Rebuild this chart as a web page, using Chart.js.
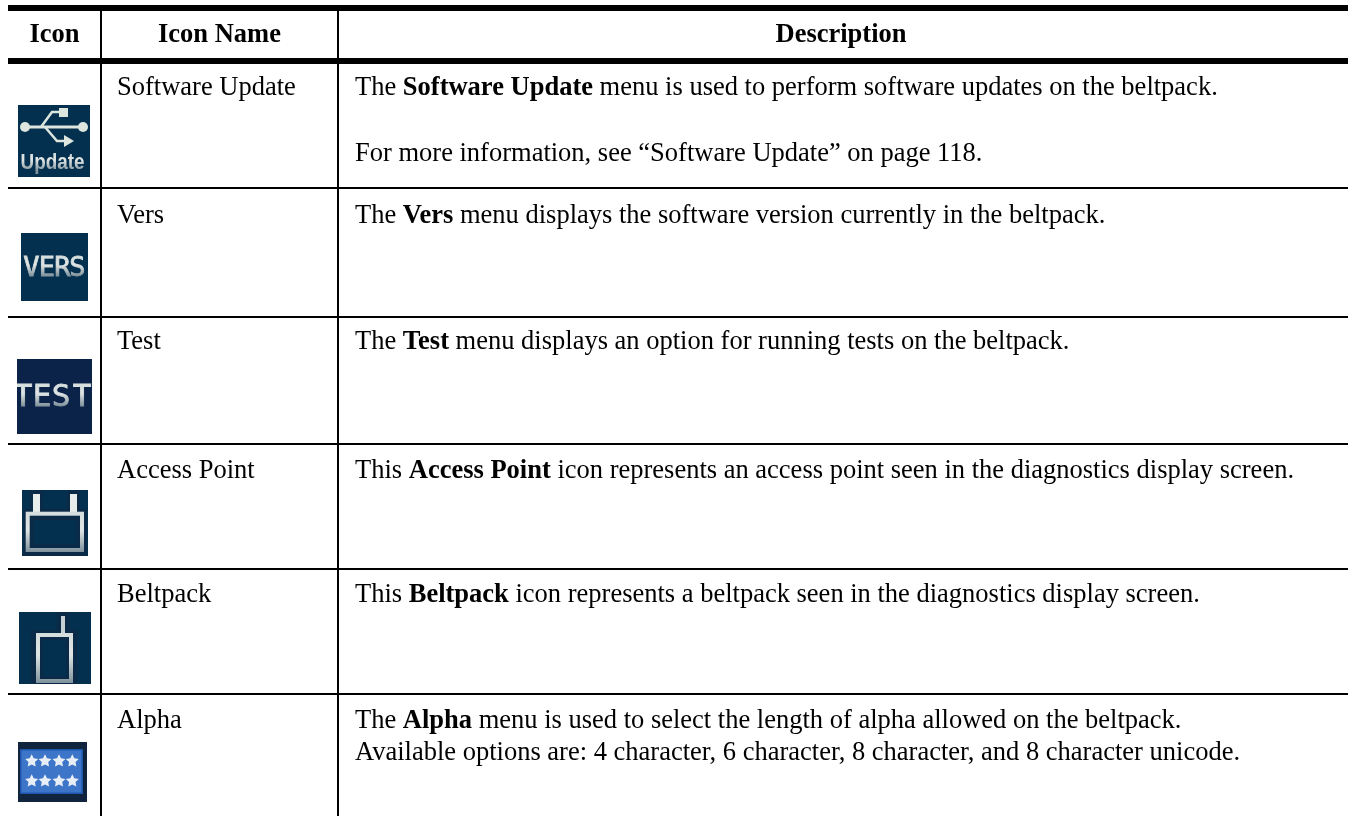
<!DOCTYPE html>
<html>
<head>
<meta charset="utf-8">
<script src="https://cdn.jsdelivr.net/npm/chart.js@4/dist/chart.umd.min.js"></script>
<style>html,body{margin:0;padding:0;background:#fff}canvas{display:block}</style>
</head>
<body>
<canvas id="c" width="1348" height="816"></canvas>
<script>
// table text
const headers=['Icon','Icon Name','Description'];
const iconNames=['Software Update','Vers','Test','Access Point','Beltpack','Alpha'];
// **x** = bold
const descriptions=[
['The **Software Update** menu is used to perform software updates on the beltpack.','For more information, see “Software Update” on page 118.'],
['The **Vers** menu displays the software version currently in the beltpack.'],
['The **Test** menu displays an option for running tests on the beltpack.'],
['This **Access Point** icon represents an access point seen in the diagnostics display screen.'],
['This **Beltpack** icon represents a beltpack seen in the diagnostics display screen.'],
['The **Alpha** menu is used to select the length of alpha allowed on the beltpack.','Available options are: 4 character, 6 character, 8 character, and 8 character unicode.']
];
// rules, in picture pixels
const colRules=[100.5,338];
const rowRules=[8,61,188,317,444,569,694];
const nameBaselines=[95,222.5,349,478,602,727.5];
const descBaselines=[[95,161],[222.5],[349],[478],[602],[727.5,760]];
const iconX=[54,54.5,54.5,55,55,52.5];
const iconY=[141,267,396.5,523,648,772];
const iconW=[72,67,75,66,72,69];
const iconH=[72,68,75,66,72,60];

const FONT='"Liberation Serif"';
const SIZE=26.5;

function blurred(w,h,draw){
  const a=document.createElement('canvas');a.width=w;a.height=h;
  draw(a.getContext('2d'),w,h);
  const b=document.createElement('canvas');b.width=w;b.height=h;
  const x=b.getContext('2d');x.filter='blur(0.6px)';x.drawImage(a,0,0);
  return b;
}
function metal(c,y0,y1){
  const g=c.createLinearGradient(0,y0,0,y1);
  g.addColorStop(0,'#d4dcdc');g.addColorStop(.45,'#dfe5e4');g.addColorStop(1,'#7f929c');
  return g;
}
function letters(c,s,xs,y,font){
  c.font=font;c.textAlign='center';
  s.split('').forEach((l,i)=>{c.fillText(l,xs[i],y);c.strokeText(l,xs[i],y);});
}
function star(c,x,y,r){
  c.beginPath();
  for(let i=0;i<10;i++){
    const a=-Math.PI/2+i*Math.PI/5,q=i%2?r*.5:r;
    c.lineTo(x+q*Math.cos(a),y+q*Math.sin(a));
  }
  c.closePath();c.fill();
}
const iconDraw=[
(c,w,h)=>{ // usb
  c.fillStyle='#04304f';c.fillRect(0,0,w,h);
  c.strokeStyle=c.fillStyle='#dde6de';c.lineWidth=3;
  c.beginPath();c.moveTo(7,22);c.lineTo(65,22);c.stroke();
  c.beginPath();c.arc(7,22,5,0,7);c.fill();
  c.beginPath();c.arc(65,22,5,0,7);c.fill();
  c.lineWidth=2.5;
  c.beginPath();c.moveTo(23,22);c.lineTo(34,7);c.lineTo(43,7);c.stroke();
  c.fillRect(41,3,9,9);
  c.beginPath();c.moveTo(27,22);c.lineTo(39,36);c.lineTo(48,36);c.stroke();
  c.beginPath();c.moveTo(46,30);c.lineTo(56,36);c.lineTo(46,42);c.fill();
  c.fillStyle=metal(c,46,66);c.font='bold 22px "Liberation Sans"';c.textAlign='center';
  c.fillText('Update',34.5,64,64);
},
(c,w,h)=>{
  c.fillStyle='#04304f';c.fillRect(0,0,w,h);
  c.fillStyle=c.strokeStyle=metal(c,23,43);c.lineWidth=.8;
  letters(c,'VERS',[10.5,26,41.5,56.5],43,'27px "DejaVu Sans Mono"');
},
(c,w,h)=>{
  c.fillStyle='#0b2348';c.fillRect(0,0,w,h);
  c.fillStyle=c.strokeStyle=metal(c,24,47);c.lineWidth=.8;
  letters(c,'TEST',[6,25,44,65],47,'31px "DejaVu Sans Mono"');
},
(c,w,h)=>{
  c.fillStyle='#04304f';c.fillRect(0,0,w,h);
  c.fillStyle='#0a2a48';c.fillRect(1,19,64,47);c.fillRect(8,0,13,20);c.fillRect(45,0,13,20);
  c.fillStyle='#e8ecea';c.fillRect(11,4,7,20);c.fillRect(48,4,7,20);
  c.strokeStyle=metal(c,22,62);c.lineWidth=4;c.strokeRect(5.7,23.7,54.3,36.3);
  c.fillStyle='#04304f';c.fillRect(12,30,42,24);
},
(c,w,h)=>{
  c.fillStyle='#04304f';c.fillRect(0,0,w,h);
  c.fillStyle='#0a2a48';c.fillRect(12,18,46,54);c.fillRect(38,0,12,20);
  c.fillStyle='#c6d0d4';c.fillRect(42,4,4,18);
  c.strokeStyle=metal(c,20,71);c.lineWidth=4;c.strokeRect(19,23,33,46);
  c.fillStyle='#04304f';c.fillRect(24,28,23,36);
},
(c,w,h)=>{
  c.fillStyle='#10243e';c.fillRect(0,0,w,h);
  c.fillStyle='#1f56ad';c.fillRect(2,7,63,45);
  c.fillStyle='#3d75c8';c.fillRect(3.5,8.5,60,42);
  c.fillStyle='#e8eef6';
  [13.7,27,41,54.3].forEach(x=>{star(c,x,19,6.8);star(c,x,39,6.8);});
}
];
const iconImages=iconDraw.map((d,i)=>blurred(iconW[i],iconH[i],d));

function drawRich(ctx,text,x,y){
  text.split('**').forEach((part,i)=>{
    ctx.font=(i%2?'bold ':'')+SIZE+'px '+FONT;
    ctx.fillText(part,x,y);
    x+=ctx.measureText(part).width;
  });
}
const tableText={
  id:'tableText',
  afterDatasetsDraw(chart){
    const {ctx,scales:{x,y}}=chart;
    ctx.save();
    ctx.fillStyle='#000';ctx.textBaseline='alphabetic';
    ctx.font='bold '+SIZE+'px '+FONT;ctx.textAlign='center';
    const hx=[54.5,219.5,841];
    headers.forEach((h,i)=>ctx.fillText(h,x.getPixelForValue(hx[i]),y.getPixelForValue(41.5)));
    ctx.textAlign='left';
    iconNames.forEach((n,i)=>{
      ctx.font=SIZE+'px '+FONT;
      ctx.fillText(n,x.getPixelForValue(117),y.getPixelForValue(nameBaselines[i]));
    });
    descriptions.forEach((lines,i)=>lines.forEach((l,j)=>{
      drawRich(ctx,l,x.getPixelForValue(355),y.getPixelForValue(descBaselines[i][j]));
    }));
    ctx.restore();
  }
};

new Chart(document.getElementById('c'),{
  type:'scatter',
  data:{datasets:[{
    data:iconX.map((v,i)=>({x:v,y:iconY[i]})),
    pointStyle:iconImages,
    pointRadius:3,
    clip:false
  }]},
  options:{
    responsive:false,animation:false,
    layout:{autoPadding:false,padding:{left:8,top:5,right:0,bottom:0}},
    plugins:{legend:{display:false},tooltip:{enabled:false}},
    scales:{
      x:{type:'linear',min:8,max:1348,
        afterBuildTicks(s){s.ticks=colRules.map(v=>({value:v}))},
        ticks:{display:false},border:{display:false},
        grid:{color:'#000',lineWidth:2,drawTicks:false}},
      y:{type:'linear',min:5,max:816,reverse:true,
        afterBuildTicks(s){s.ticks=rowRules.map(v=>({value:v}))},
        ticks:{display:false},border:{display:false},
        grid:{color:'#000',drawTicks:false,lineWidth:c=>c.index<2?6:2}}
    }
  },
  plugins:[tableText]
});
</script>
</body>
</html>
